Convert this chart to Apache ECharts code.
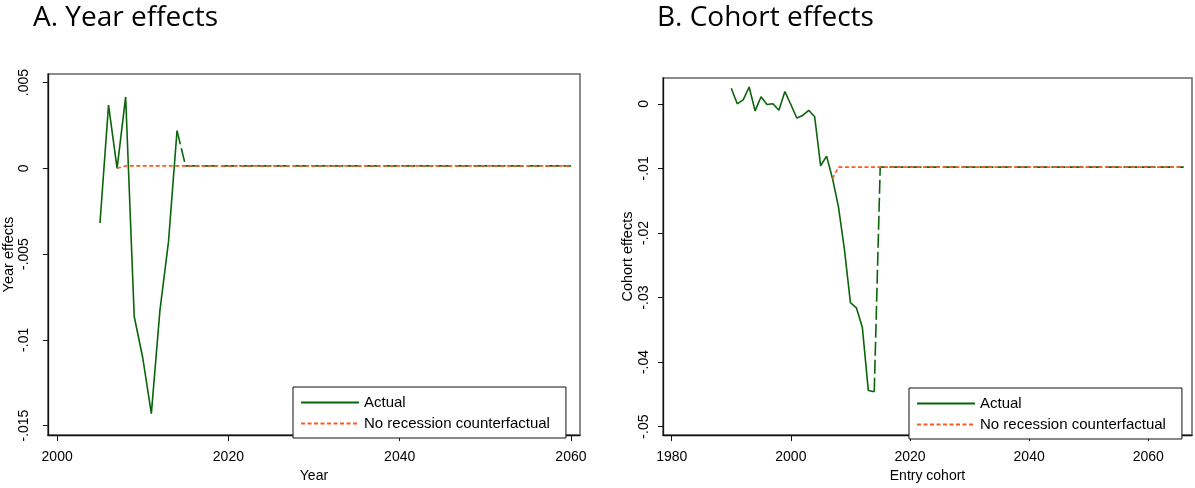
<!DOCTYPE html>
<html><head><meta charset="utf-8">
<script src="https://cdn.jsdelivr.net/npm/echarts@6/dist/echarts.min.js"></script>
<style>html,body{margin:0;padding:0;background:#fff}#c{width:1195px;height:488px}</style>
</head><body><div id="c"></div>
<script>
// ---- Panel A: Year effects ----
const yearActualX = [2005, 2006, 2007, 2008, 2009, 2010, 2011, 2012, 2013, 2014];
const yearActualY = [-0.00319, 0.00368, 0.0000, 0.00416, -0.00864, -0.01106, -0.0143, -0.0083, -0.00429, 0.00219];
const yearProjX = [2014, 2015, 2060];
const yearProjY = [0.00219, 0.00014, 0.00014];
const yearCfX = [2007, 2008, 2060];
const yearCfY = [0.0000, 0.00014, 0.00014];
const yearXTicks = [2000, 2020, 2040, 2060];
const yearYTicks = [-0.015, -0.01, -0.005, 0, 0.005];

// ---- Panel B: Cohort effects ----
const cohortActualX = [1990, 1991, 1992, 1993, 1994, 1995, 1996, 1997, 1998, 1999, 2000, 2001, 2002,
  2003, 2004, 2005, 2006, 2007, 2008, 2009, 2010, 2011, 2012, 2013, 2014];
const cohortActualY = [0.0024, 0.0000, 0.0006, 0.0026, -0.0011, 0.0011, -0.0001, 0.0000, -0.0010, 0.0019,
  -0.0001, -0.0022, -0.0018, -0.0010, -0.0020, -0.0096, -0.0081, -0.0116, -0.0160, -0.0226,
  -0.0308, -0.0316, -0.0346, -0.0444, -0.0446];
const cohortProjX = [2014, 2015, 2066];
const cohortProjY = [-0.0446, -0.0098, -0.0098];
const cohortCfX = [2007, 2008, 2066];
const cohortCfY = [-0.0116, -0.0098, -0.0098];
const cohortXTicks = [1980, 2000, 2020, 2040, 2060];
const cohortYTicks = [-0.05, -0.04, -0.03, -0.02, -0.01, 0];

const titles = ['A. Year effects', 'B. Cohort effects'];
const legendNames = ['Actual', 'No recession counterfactual'];

const zip = (xs, ys) => xs.map((x, i) => [x, ys[i]]);
const GREEN = '#0a640a', ORANGE = '#ff5a1f';
const FONT = 'Liberation Sans, Arial, sans-serif';
const fmtY = v => String(+v.toFixed(4)).replace(/^(-?)0\./, '$1.');

function xAxisCfg(idx, min, max, ticks, name) {
  return {
    type: 'value', gridIndex: idx, min, max, name,
    nameLocation: 'middle', nameGap: 29,
    nameTextStyle: {color: '#000', fontSize: 14, fontFamily: FONT},
    axisLine: {show: true, onZero: false, lineStyle: {color: '#111', width: 1.3}},
    axisTick: {show: true, length: 6, customValues: ticks, lineStyle: {color: '#111', width: 1}},
    axisLabel: {customValues: ticks, color: '#000', fontSize: 14, fontFamily: FONT, margin: 15,
      formatter: v => String(v)},
    splitLine: {show: false}
  };
}
function yAxisCfg(idx, min, max, ticks, name, labelMargin, nameGap) {
  return {
    type: 'value', gridIndex: idx, min, max, name,
    nameLocation: 'middle', nameGap, nameRotate: 90,
    nameTextStyle: {color: '#000', fontSize: 14.5, fontFamily: FONT},
    axisLine: {show: true, onZero: false, lineStyle: {color: '#111', width: 1.3}},
    axisTick: {show: true, length: 5, customValues: ticks, lineStyle: {color: '#111', width: 1}},
    axisLabel: {customValues: ticks, rotate: 90, color: '#000', fontSize: 14, fontFamily: FONT, margin: labelMargin,
      formatter: fmtY},
    splitLine: {show: false}
  };
}
function lineSeries(name, xi, data, color, dash) {
  return {
    type: 'line', name, xAxisIndex: xi, yAxisIndex: xi, data,
    symbol: 'none', showSymbol: false, smooth: false,
    lineStyle: {color, width: 1.6, type: dash},
    itemStyle: {color}
  };
}
function legendCfg(left, top) {
  return {
    data: legendNames, orient: 'vertical', left, top,
    itemWidth: 58, itemHeight: 14, itemGap: 6,
    padding: [8, 16, 7, 7],
    borderColor: '#111', borderWidth: 1, backgroundColor: '#fff',
    itemStyle: {opacity: 0},
    textStyle: {color: '#000', fontSize: 15, fontFamily: FONT}
  };
}

const chart = echarts.init(document.getElementById('c'), null, {renderer: 'canvas'});
chart.setOption({
  animation: false,
  backgroundColor: '#fff',
  title: [
    {text: titles[0], left: 33, top: 4, padding: 0, textStyle: {fontFamily: 'Open Sans', fontWeight: 'normal', fontSize: 28, color: '#000'}},
    {text: titles[1], left: 657, top: 4, padding: 0, textStyle: {fontFamily: 'Open Sans', fontWeight: 'normal', fontSize: 28, color: '#000'}}
  ],
  grid: [
    {left: 44, top: 74, width: 536, height: 368, show: true, borderColor: '#666', borderWidth: 1.5, backgroundColor: 'transparent'},
    {left: 663, top: 78, width: 529, height: 364, show: true, borderColor: '#666', borderWidth: 1.5, backgroundColor: 'transparent'}
  ],
  xAxis: [
    xAxisCfg(0, 1998.92, 2061.06, yearXTicks, 'Year'),
    xAxisCfg(1, 1978.54, 2067.34, cohortXTicks, 'Entry cohort')
  ],
  yAxis: [
    yAxisCfg(0, -0.015555, 0.005498, yearYTicks, 'Year effects', 17, 24),
    yAxisCfg(1, -0.05132, 0.004, cohortYTicks, 'Cohort effects', 12, 28)
  ],
  legend: [legendCfg(293, 387), legendCfg(909, 388)],
  series: [
    lineSeries('Actual', 0, zip(yearActualX, yearActualY), GREEN, 'solid'),
    lineSeries('Actual (projected)', 0, zip(yearProjX, yearProjY), GREEN, [14, 4]),
    lineSeries('No recession counterfactual', 0, zip(yearCfX, yearCfY), ORANGE, [4, 2.5]),
    lineSeries('Actual', 1, zip(cohortActualX, cohortActualY), GREEN, 'solid'),
    lineSeries('Actual (projected)', 1, zip(cohortProjX, cohortProjY), GREEN, [14, 4]),
    lineSeries('No recession counterfactual', 1, zip(cohortCfX, cohortCfY), ORANGE, [4, 2.5])
  ]
});
</script></body></html>
